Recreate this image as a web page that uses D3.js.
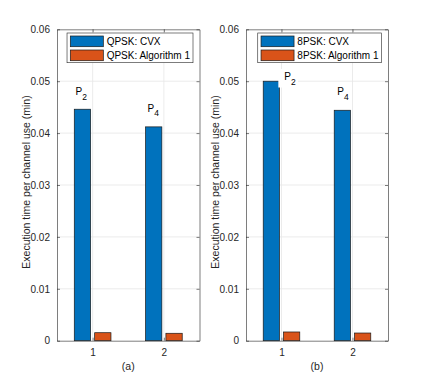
<!DOCTYPE html>
<html>
<head>
<meta charset="utf-8">
<script src="https://cdn.jsdelivr.net/npm/d3@7"></script>
<style>
  body { margin: 0; background: #fff; }
  text { font-family: "Liberation Sans", Arial, sans-serif; }
</style>
</head>
<body>
<div id="plot"></div>
<script>
// Data
var groups = [1, 2];
var yTicks = [0, 0.01, 0.02, 0.03, 0.04, 0.05, 0.06];

var qpskCvx = [0.0446, 0.0412];
var qpskAlg = [0.00154, 0.00143];
var psk8Cvx = [0.0500, 0.0444];
var psk8Alg = [0.00168, 0.00148];

var seriesNamesA = ["QPSK: CVX", "QPSK: Algorithm 1"];
var seriesNamesB = ["8PSK: CVX", "8PSK: Algorithm 1"];

// annotation anchors in data units
var labelSubs = ["2", "4"];
var labelXA = [0.761, 1.771], labelYA = [0.04725, 0.04414];
var labelXB = [1.04, 1.786], labelYB = [0.05023, 0.04734];

var colors = ["#0072BD", "#D95319"];
var axisColor = "#262626";

var width = 429, height = 383;
var svg = d3.select("div#plot").append("svg")
    .attr("width", width)
    .attr("height", height)
    .attr("viewBox", "0 0 " + width + " " + height);

function drawPanel(opt) {
    var x0 = opt.left, x1 = opt.right, y0 = 340.7, y1 = 29.3;
    var g = svg.append("g");

    var x_scale = d3.scaleLinear().domain([0.5, 2.5]).range([x0, x1]);
    var y_scale = d3.scaleLinear().domain([0, 0.06]).range([y0, y1]);

    // grid
    g.append("g").selectAll("line.gy")
        .data(yTicks.slice(1, -1))
        .join("line")
            .attr("x1", x0).attr("x2", x1)
            .attr("y1", d => y_scale(d)).attr("y2", d => y_scale(d))
            .style("stroke", "#e6e6e6").style("stroke-width", 0.8);
    g.append("g").selectAll("line.gx")
        .data(groups)
        .join("line")
            .attr("x1", d => x_scale(d)).attr("x2", d => x_scale(d))
            .attr("y1", y0).attr("y2", y1)
            .style("stroke", "#e6e6e6").style("stroke-width", 0.8);

    // bars (MATLAB grouped layout)
    var barW = 0.229, off = 0.143;
    var series = [opt.cvx, opt.alg];
    series.forEach(function(vals, s) {
        g.append("g").selectAll("rect")
            .data(groups.map((grp, i) => ({x: grp, v: vals[i]})))
            .join("rect")
                .attr("x", d => x_scale(d.x + (s === 0 ? -off : off) - barW / 2))
                .attr("width", x_scale(barW) - x_scale(0))
                .attr("y", d => y_scale(d.v))
                .attr("height", d => y0 - y_scale(d.v))
                .style("fill", colors[s])
                .style("stroke", "#1a1a1a")
                .style("stroke-width", 0.7);
    });

    // P labels with white background
    var lg = g.append("g");
    labelSubs.forEach(function(sub, i) {
        var t = lg.append("text")
            .attr("x", x_scale(opt.labelX[i]))
            .attr("y", y_scale(opt.labelY[i]))
            .style("font-size", "10px")
            .style("fill", "#000");
        t.append("tspan").text("P");
        t.append("tspan").attr("dy", 4.5).style("font-size", "8.5px").text(sub);
        var bb = t.node().getBBox();
        lg.insert("rect", "text")
            .attr("x", bb.x - 6).attr("y", bb.y - 2)
            .attr("width", bb.width + 8).attr("height", bb.height + 3)
            .style("fill", "#fff");
    });

    // axes box
    var axis_g = g.append("g");
    var yAxisL = d3.axisLeft(y_scale).tickValues(yTicks)
        .tickFormat(d => d === 0 ? "0" : d3.format(".2f")(d))
        .tickSizeInner(-3).tickSizeOuter(0).tickPadding(7);
    var yAxisR = d3.axisRight(y_scale).tickValues(yTicks)
        .tickFormat("").tickSizeInner(-3).tickSizeOuter(0);
    var xAxisB = d3.axisBottom(x_scale).tickValues(groups)
        .tickFormat(d3.format("d")).tickSizeInner(-3).tickSizeOuter(0).tickPadding(8);
    var xAxisT = d3.axisTop(x_scale).tickValues(groups)
        .tickFormat("").tickSizeInner(-3).tickSizeOuter(0);

    axis_g.append("g").attr("transform", "translate(" + x0 + ",0)").call(yAxisL);
    axis_g.append("g").attr("transform", "translate(" + x1 + ",0)").call(yAxisR);
    axis_g.append("g").attr("transform", "translate(0," + y0 + ")").call(xAxisB);
    axis_g.append("g").attr("transform", "translate(0," + y1 + ")").call(xAxisT);
    axis_g.selectAll("path, line").style("stroke", axisColor).style("stroke-width", 0.6);
    axis_g.selectAll("text")
        .style("font-family", "'Liberation Sans', Arial, sans-serif")
        .style("font-size", "10px")
        .style("fill", axisColor);

    // y label
    g.append("text")
        .attr("transform", "translate(" + (x0 - 27) + "," + ((y0 + y1) / 2 - 3) + ") rotate(-90)")
        .attr("text-anchor", "middle")
        .style("font-size", "10.5px")
        .style("fill", axisColor)
        .text("Execution time per channel use (min)");

    // caption
    g.append("text")
        .attr("x", (x0 + x1) / 2)
        .attr("y", 370)
        .attr("text-anchor", "middle")
        .style("font-size", "10.5px")
        .style("fill", axisColor)
        .text(opt.caption);

    // legend (northeast)
    var leg = g.append("g");
    var texts = opt.names.map(function(name, i) {
        return leg.append("text")
            .attr("y", 41.3 + i * 14 + 3.6)
            .style("font-size", "10px")
            .style("fill", "#000")
            .text(name);
    });
    var textW = d3.max(texts, t => t.node().getComputedTextLength());
    var boxW = 39.6 + textW + 3;
    var bx = x1 - 6.5 - boxW;
    texts.forEach(t => t.attr("x", bx + 39.6));
    leg.insert("rect", "text")
        .attr("x", bx).attr("y", 33)
        .attr("width", boxW).attr("height", 29.7)
        .style("fill", "#fff").style("stroke", axisColor).style("stroke-width", 0.6);
    opt.names.forEach(function(name, i) {
        leg.append("rect")
            .attr("x", bx + 3.3).attr("y", 36 + i * 14)
            .attr("width", 33).attr("height", 10.7)
            .style("fill", colors[i]).style("stroke", "#1a1a1a").style("stroke-width", 0.7);
    });
}

drawPanel({left: 57, right: 199.5, cvx: qpskCvx, alg: qpskAlg, names: seriesNamesA,
    labelX: labelXA, labelY: labelYA, caption: "(a)"});
drawPanel({left: 246, right: 388, cvx: psk8Cvx, alg: psk8Alg, names: seriesNamesB,
    labelX: labelXB, labelY: labelYB, caption: "(b)"});
</script>
</body>
</html>
